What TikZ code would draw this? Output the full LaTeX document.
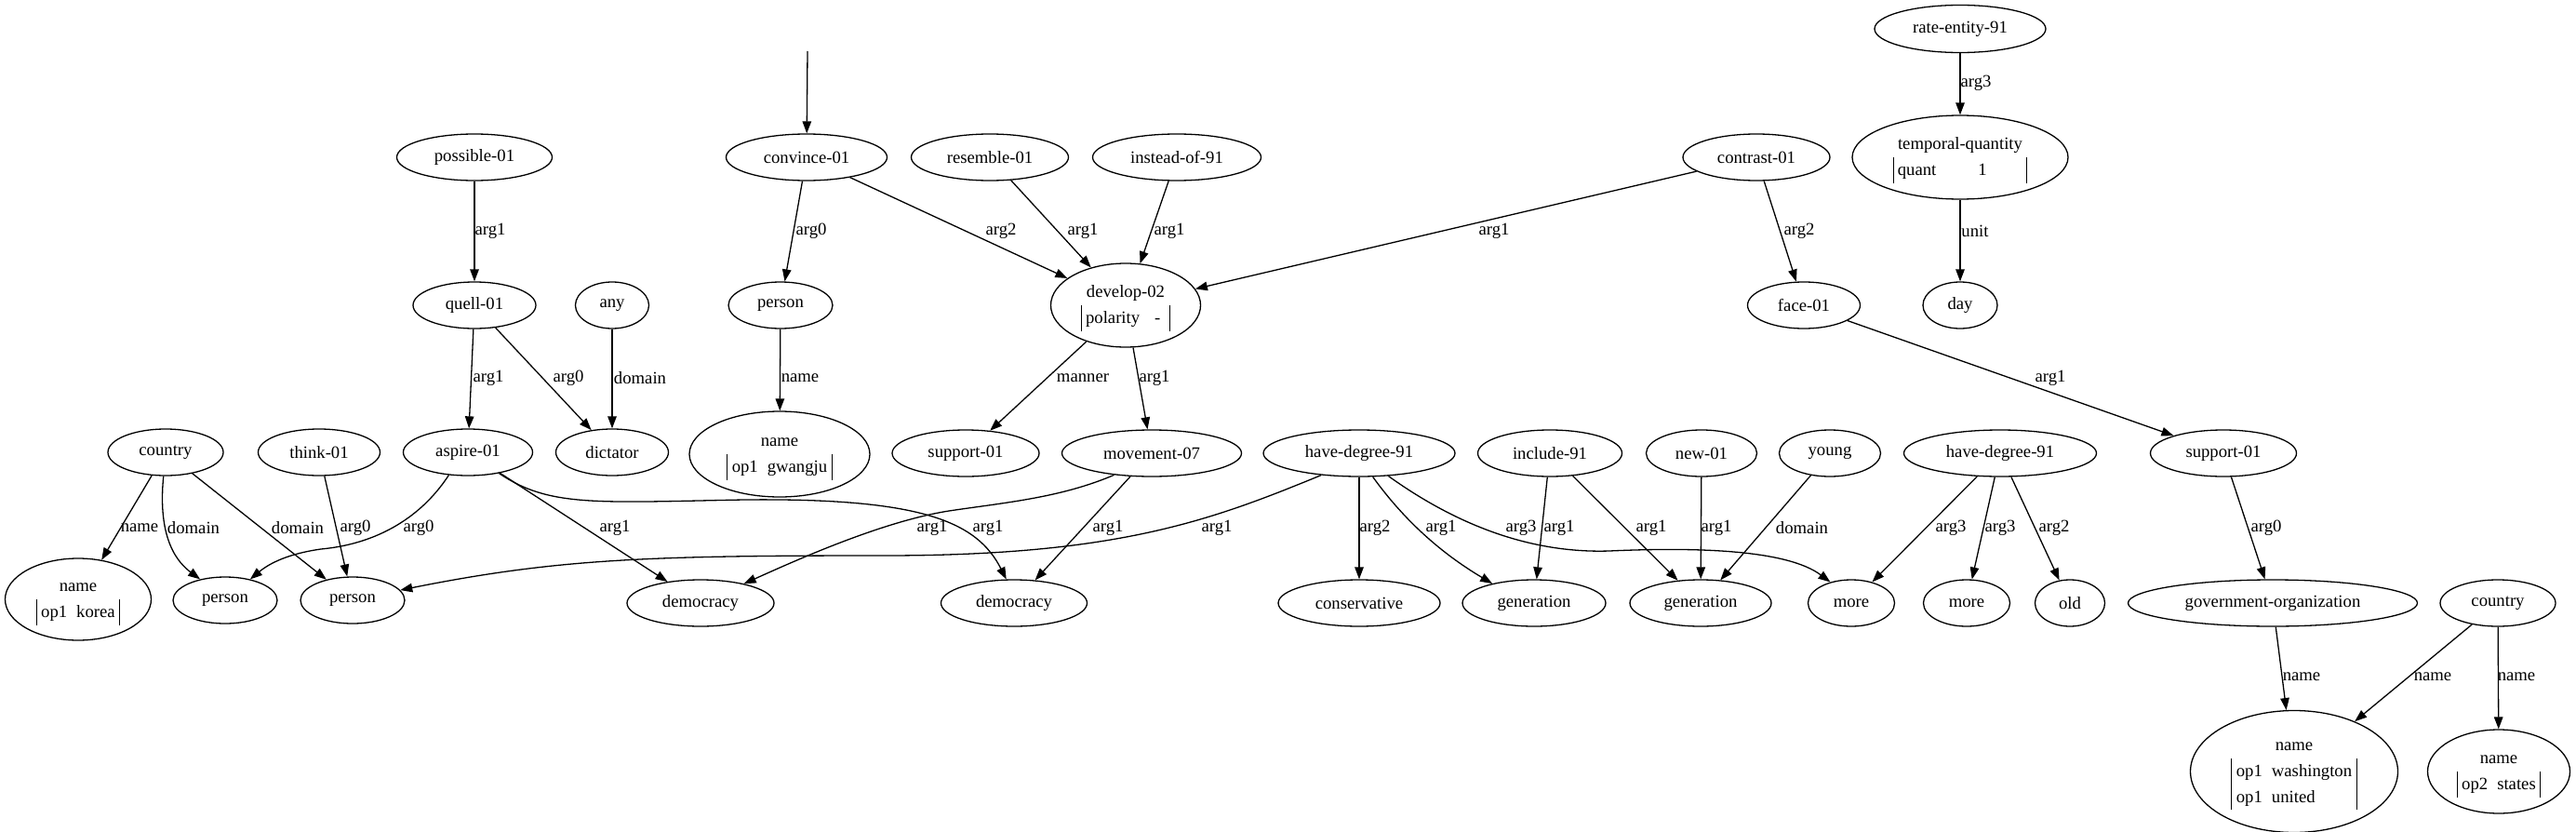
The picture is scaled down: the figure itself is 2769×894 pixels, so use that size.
\documentclass[tikz,border=0pt]{standalone}
\usepackage{fontspec}
\setmainfont{Liberation Serif}
\usetikzlibrary{shapes.geometric,arrows.meta}
\setlength{\tabcolsep}{5pt}
\setlength{\arrayrulewidth}{1pt}
\renewcommand{\arraystretch}{1.23}
\newcommand{\ellnode}[5]{\node[ell,minimum width=#3pt,minimum height=#4pt] (#1) at #2 {#5};}
\begin{document}
\begin{tikzpicture}[x=1pt,y=-1pt,font=\fontsize{18.7}{22.4}\selectfont]
\tikzset{
  ell/.style={draw, ellipse, inner sep=0pt, line width=1.3pt},
  arr/.style={-{Triangle[length=13pt,width=9.5pt]}, line width=1.3pt},
  lbl/.style={inner sep=0pt}
}
\useasboundingbox (0,0) rectangle (2769,894);

% row 0
\ellnode{rate}{(2107,31)}{184}{51}{rate-entity-91}
% row 1
\ellnode{convince}{(867,169)}{173}{50}{convince-01}
\ellnode{resemble}{(1064,169)}{169}{50}{resemble-01}
\ellnode{instead}{(1265,169)}{181}{50}{instead-of-91}
\ellnode{contrast}{(1888,169)}{158}{50}{contrast-01}
\ellnode{possible}{(510,169)}{167}{50}{possible-01}
\ellnode{tempq}{(2107,169)}{232}{90}{\begin{tabular}{|@{\hspace{4pt}}l@{\hspace{45pt}}l@{\hspace{43pt}}|}\multicolumn{2}{@{}c@{}}{temporal-quantity}\\ quant & 1\end{tabular}}
% row 2
\ellnode{quell}{(510,328)}{132}{50}{quell-01}
\ellnode{any}{(658,328)}{79}{50}{any}
\ellnode{person1}{(839,328)}{112}{50}{person}
\ellnode{develop}{(1210,328)}{161}{90}{\begin{tabular}{|@{\hspace{4pt}}l@{\hspace{16pt}}l@{\hspace{10pt}}|}\multicolumn{2}{@{}c@{}}{develop-02}\\ polarity & -\end{tabular}}
\ellnode{face}{(1939,328)}{121}{50}{face-01}
\ellnode{day}{(2107,328)}{80}{50}{day}
% row 3
\ellnode{countryA}{(178,486)}{124}{50}{country}
\ellnode{think}{(343,486)}{131}{50}{think-01}
\ellnode{aspire}{(503,486)}{139}{50}{aspire-01}
\ellnode{dictator}{(658,486)}{121}{50}{dictator}
\ellnode{namegw}{(838,488)}{194}{92}{\begin{tabular}{|l l|}\multicolumn{2}{c}{name}\\ op1 & gwangju\end{tabular}}
\ellnode{supportA}{(1038,487)}{158}{50}{support-01}
\ellnode{movement}{(1238,487)}{193}{50}{movement-07}
\ellnode{hdA}{(1461,487)}{206}{50}{have-degree-91}
\ellnode{include}{(1666,487)}{155}{50}{include-91}
\ellnode{new}{(1829,487)}{119}{50}{new-01}
\ellnode{young}{(1967,487)}{109}{50}{young}
\ellnode{hdB}{(2150,487)}{207}{50}{have-degree-91}
\ellnode{supportB}{(2390,487)}{157}{50}{support-01}
% row 4
\ellnode{namekorea}{(84,644)}{157}{88}{\begin{tabular}{|l l|}\multicolumn{2}{c}{name}\\ op1 & korea\end{tabular}}
\ellnode{personA}{(242,645)}{112}{50}{person}
\ellnode{personB}{(379,645)}{112}{50}{person}
\ellnode{demA}{(753,648)}{158}{50}{democracy}
\ellnode{demB}{(1090,648)}{157}{50}{democracy}
\ellnode{conservative}{(1461,648)}{174}{50}{conservative}
\ellnode{genA}{(1649,648)}{154}{50}{generation}
\ellnode{genB}{(1828,648)}{152}{50}{generation}
\ellnode{moreA}{(1990,648)}{93}{50}{more}
\ellnode{moreB}{(2114,648)}{93}{50}{more}
\ellnode{old}{(2225,648)}{75}{50}{old}
\ellnode{govorg}{(2443,648)}{311}{50}{government-organization}
\ellnode{countryB}{(2685,648)}{124}{50}{country}
% row 5
\ellnode{namewash}{(2466,829)}{223}{131}{\begin{tabular}{|l l|}\multicolumn{2}{c}{name}\\ op1 & washington\\ op1 & united\end{tabular}}
\ellnode{namestates}{(2686,829)}{153}{90}{\begin{tabular}{|l l|}\multicolumn{2}{c}{name}\\ op2 & states\end{tabular}}

\coordinate (top) at (868,55);

% edges
\draw[arr] (top) -- (convince);
\draw[arr] (convince) -- (person1) node[lbl] at (872,248) {arg0};
\draw[arr] (convince) -- (develop) node[lbl] at (1076,248) {arg2};
\draw[arr] (resemble) -- (develop) node[lbl] at (1164,248) {arg1};
\draw[arr] (instead) -- (develop) node[lbl] at (1257,248) {arg1};
\draw[arr] (contrast) -- (develop) node[lbl] at (1606,248) {arg1};
\draw[arr] (contrast) -- (face) node[lbl] at (1934,248) {arg2};
\draw[arr] (rate) -- (tempq) node[lbl] at (2124,89) {arg3};
\draw[arr] (tempq) -- (day) node[lbl] at (2123,248) {unit};
\draw[arr] (possible) -- (quell) node[lbl] at (527,248) {arg1};
\draw[arr] (quell) -- (aspire) node[lbl] at (525,406) {arg1};
\draw[arr] (quell) -- (dictator) node[lbl] at (611,406) {arg0};
\draw[arr] (any) -- (dictator) node[lbl] at (688,406) {domain};
\draw[arr] (person1) -- (namegw) node[lbl] at (860,406) {name};
\draw[arr] (develop) -- (supportA) node[lbl] at (1164,406) {manner};
\draw[arr] (develop) -- (movement) node[lbl] at (1241,406) {arg1};
\draw[arr] (face) -- (supportB) node[lbl] at (2204,406) {arg1};

\draw[arr] (countryA) -- (namekorea) node[lbl] at (150,567) {name};
\draw[arr] (countryA.-95) .. controls (170,570) and (185,600) .. (personA.140) node[lbl] at (208,567) {domain};
\draw[arr] (countryA) -- (personB) node[lbl] at (320,567) {domain};
\draw[arr] (think) -- (personB) node[lbl] at (382,567) {arg0};
\draw[arr] (aspire.-130) .. controls (450,560) and (400,585) .. (345,590) .. controls (310,595) and (290,605) .. (personA.40);
\node[lbl] at (450,567) {arg0};
\draw[arr] (aspire) -- (demA) node[lbl] at (661,567) {arg1};
\draw[arr] (movement.-150) .. controls (1140,535) and (1080,540) .. (1020,549) .. controls (950,560) and (860,600) .. (demA.24);
\node[lbl] at (1002,567) {arg1};
\draw[arr] (aspire.-34) .. controls (590,545) and (640,540) .. (800,537) .. controls (990,535) and (1050,560) .. (demB.108);
\node[lbl] at (1062,567) {arg1};
\draw[arr] (movement) -- (demB) node[lbl] at (1191,567) {arg1};
\draw[arr] (hdA.-150) .. controls (1300,560) and (1200,597) .. (950,597) .. controls (700,597) and (600,600) .. (personB.12);
\node[lbl] at (1308,567) {arg1};
\draw[arr] (hdA) -- (conservative) node[lbl] at (1478,567) {arg2};
\draw[arr] (hdA.-60) .. controls (1510,560) and (1550,595) .. (genA.155);
\node[lbl] at (1549,567) {arg1};
\draw[arr] (hdA.-38) .. controls (1560,560) and (1640,595) .. (1730,592) .. controls (1820,588) and (1920,590) .. (moreA.135);
\node[lbl] at (1635,567) {arg3};
\draw[arr] (include) -- (genA) node[lbl] at (1676,567) {arg1};
\draw[arr] (include) -- (genB) node[lbl] at (1775,567) {arg1};
\draw[arr] (new) -- (genB) node[lbl] at (1845,567) {arg1};
\draw[arr] (young) -- (genB) node[lbl] at (1937,567) {domain};
\draw[arr] (hdB) -- (moreA) node[lbl] at (2097,567) {arg3};
\draw[arr] (hdB) -- (moreB) node[lbl] at (2150,567) {arg3};
\draw[arr] (hdB) -- (old) node[lbl] at (2208,567) {arg2};
\draw[arr] (supportB) -- (govorg) node[lbl] at (2436,567) {arg0};
\draw[arr] (govorg) -- (namewash) node[lbl] at (2474,727) {name};
\draw[arr] (countryB) -- (namewash) node[lbl] at (2615,727) {name};
\draw[arr] (countryB) -- (namestates) node[lbl] at (2705,727) {name};
\end{tikzpicture}
\end{document}
